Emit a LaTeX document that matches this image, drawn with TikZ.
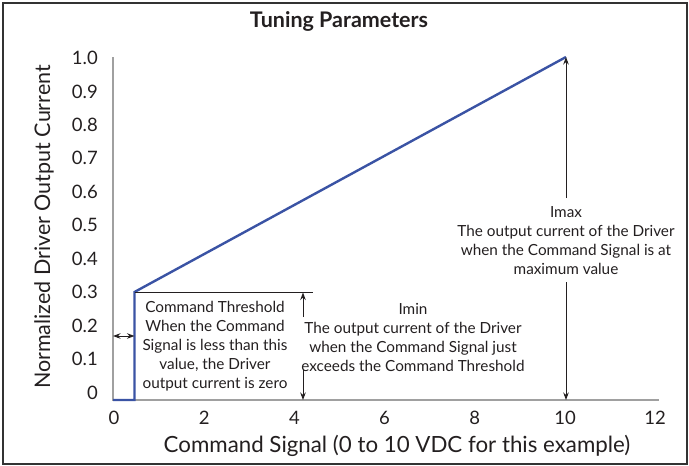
\documentclass[tikz,border=0pt]{standalone}
\usepackage{fontspec}
\setmainfont{Lato}
\usetikzlibrary{arrows.meta}
\definecolor{plotblue}{HTML}{3A53A4}
\definecolor{axisgray}{HTML}{A0A0A0}
\definecolor{inkc}{HTML}{231F20}
\begin{document}
\begin{tikzpicture}[x=1pt,y=-1pt,
  axisline/.style={draw=axisgray, line width=1.3pt},
  curve/.style={draw=plotblue, line width=2.4pt, line join=miter},
  ann/.style={align=center, font=\fontsize{15.3}{19}\selectfont, text=inkc, inner sep=0pt},
  ticklab/.style={font=\fontsize{18.5}{20}\selectfont, text=inkc, inner sep=0pt},
  dimarrow/.style={draw=inkc, line width=0.9pt, -{Stealth[length=7.5pt,width=5.5pt]}},
  dimboth/.style={draw=inkc, line width=0.9pt, {Stealth[length=7.5pt,width=5.5pt]}-{Stealth[length=7.5pt,width=5.5pt]}},
]
\useasboundingbox (0,0) rectangle (689,466);
\draw[line width=2pt, draw=black!80] (2.5,2.5) rectangle (686.5,463.5);

% title
\node[font=\fontsize{21.5}{24}\selectfont\bfseries, text=inkc] (title) at (339,21) {Tuning Parameters};

% axes
\coordinate (o) at (113,400);
\coordinate (ytop) at (113,57);
\coordinate (xend) at (659,400);
\draw[axisline] (ytop) -- (o) -- (xend);

% y tick labels
\foreach \k/\lab in {0/1.0,1/0.9,2/0.8,3/0.7,4/0.6,5/0.5,6/0.4,7/0.3,8/0.2,9/0.1,10/0}
  \node[ticklab, anchor=east] (yt\k) at (98,{58+33.45*\k}) {\lab};

% x tick labels
\foreach \v in {0,2,4,6,8,10,12}
  \node[ticklab] (xt\v) at ({114+45.1*\v},418) {\v};

% axis titles
\node[font=\fontsize{21.5}{24}\selectfont, text=inkc, rotate=90] (ylab) at (44,227) {Normalized Driver Output Current};
\node[font=\fontsize{22.3}{24}\selectfont, text=inkc] (xlab) at (397,446) {Command Signal (0 to 10 VDC for this example)};

% curve
\coordinate (p0) at (113,400);
\coordinate (p1) at (134.5,400);
\coordinate (p2) at (134.5,292);
\coordinate (p3) at (566,57);
\draw[curve] (p0) -- (p1) -- (p2) -- (p3);

% threshold line
\coordinate (thrend) at (313,292);
\draw[draw=inkc, line width=0.9pt] (p2) -- (thrend);

% threshold double arrow
\coordinate (dl) at (113,336);
\coordinate (dr) at (134.5,336);
\draw[dimboth] (dl) -- (dr);

% Imin arrows
\coordinate (iu0) at (303,317);
\coordinate (iu1) at (303,292.5);
\coordinate (id0) at (303,370);
\coordinate (id1) at (303,400);
\draw[dimarrow] (iu0) -- (iu1);
\draw[dimarrow] (id0) -- (id1);

% Imax arrows
\coordinate (mu0) at (566,198);
\coordinate (mu1) at (566,57);
\coordinate (md0) at (566,282);
\coordinate (md1) at (566,400);
\draw[dimarrow] (mu0) -- (mu1);
\draw[dimarrow] (md0) -- (md1);

% annotations
\node[ann] (thrtext) at (215,346) {Command Threshold\\When the Command\\Signal is less than this\\value, the Driver\\output current is zero};
\node[ann] (imintext) at (413,337) {Imin\\The output current of the Driver\\when the Command Signal just\\exceeds the Command Threshold};
\node[ann] (imaxtext) at (566,240.5) {Imax\\The output current of the Driver\\when the Command Signal is at\\maximum value};
\end{tikzpicture}
\end{document}
